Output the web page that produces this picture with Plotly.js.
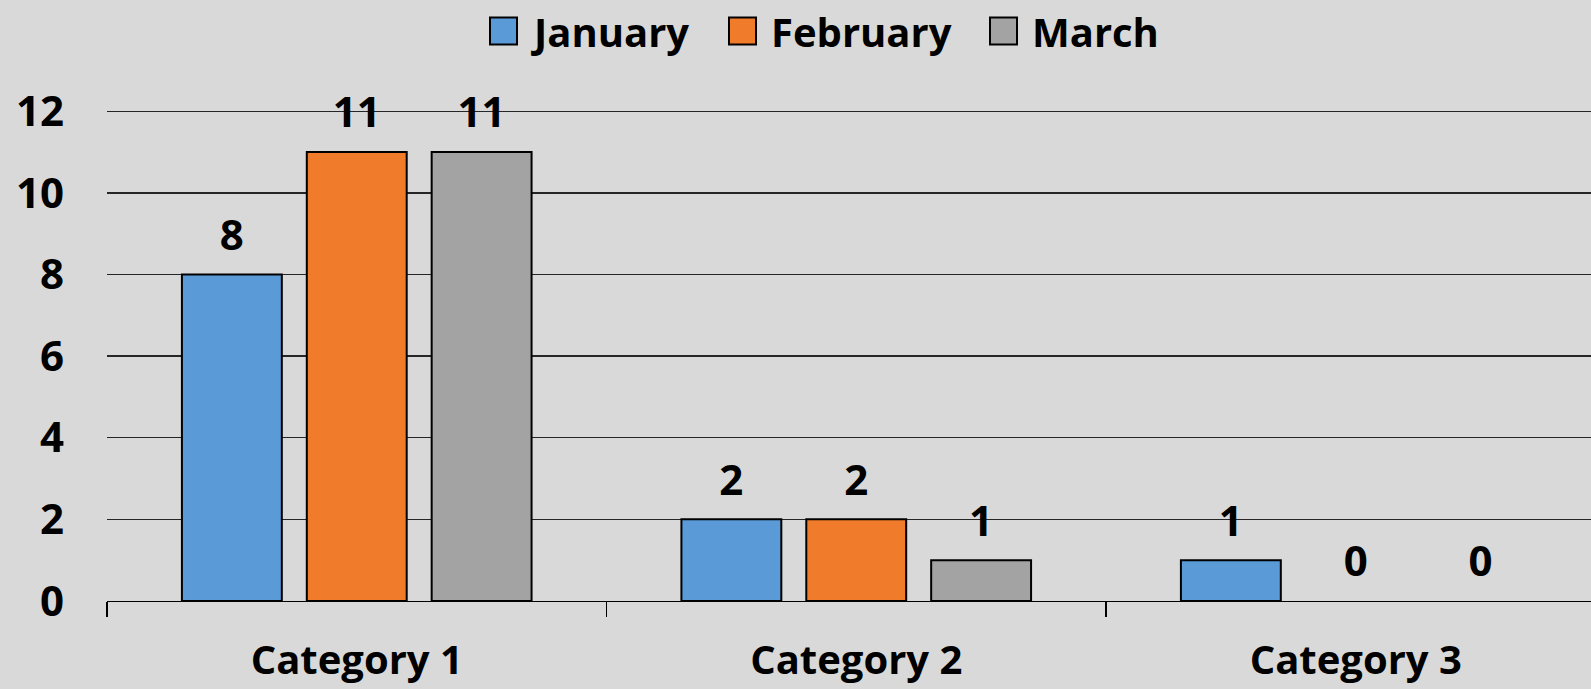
<!DOCTYPE html>
<html><head><meta charset="utf-8">
<script src="https://cdn.plot.ly/plotly-3.0.1.min.js"></script>
<style>html,body{margin:0;padding:0;background:#d9d9d9;}#chart{width:1591px;height:689px;}</style>
</head><body><div id="chart"></div>
<script>
const categories = ["Category 1", "Category 2", "Category 3"];
const january = [8, 2, 1];
const february = [11, 2, 0];
const march = [11, 1, 0];
const seriesNames = ["January", "February", "March"];
const yTicks = [0, 2, 4, 6, 8, 10, 12];

const FONT = "'Open Sans', 'Noto Sans', sans-serif";
const colors = ["#5a9ad7", "#f07b2b", "#a3a3a3"];
const vals = [january, february, march];

const W = 1591, H = 689;
const M = {l: 107, r: 0, t: 110, b: 88};
const px2x = px => (px - M.l) / (W - M.l - M.r);
const py2y = py => (H - M.b - py) / (H - M.t - M.b);

const barTraces = vals.map((v, i) => ({
  type: "bar",
  name: seriesNames[i],
  x: categories,
  y: v,
  marker: {color: colors[i], line: {color: "#000", width: v.map(y => y === 0 ? 0 : 2)}},
  hoverinfo: "x+y+name"
}));

// value labels, placed by the library at each bar's grouped position
const labelTraces = vals.map((v, i) => ({
  type: "scatter",
  mode: "markers+text",
  name: seriesNames[i] + " labels",
  x: categories,
  y: v,
  text: v.map(String),
  textposition: "top center",
  textfont: {family: FONT, size: 42, color: "#000", weight: 700},
  marker: {size: 21, color: "rgba(0,0,0,0)"},
  cliponaxis: false,
  showlegend: false,
  hoverinfo: "skip"
}));

// legend keys (large squares, as in the reference) and legend texts
const legendSwatchLeft = [490, 729, 990];
const legendTextLeft = [529, 769, 1030];
const legendShapes = seriesNames.map((n, i) => ({
  type: "rect", xref: "paper", yref: "paper",
  x0: px2x(legendSwatchLeft[i]), x1: px2x(legendSwatchLeft[i] + 27),
  y0: py2y(44.5), y1: py2y(17.5),
  fillcolor: colors[i], line: {color: "#000", width: 2}
}));
const legendAnn = seriesNames.map((n, i) => ({
  text: n, showarrow: false, xref: "paper", yref: "paper",
  x: px2x(legendTextLeft[i]), xanchor: "left",
  y: py2y(31), yanchor: "middle",
  font: {family: FONT, size: 40, color: "#000", weight: 700}
}));

const layout = {
  width: W, height: H,
  paper_bgcolor: "#d9d9d9", plot_bgcolor: "#d9d9d9",
  margin: M,
  barmode: "group", bargap: 0.25, bargroupgap: 0.2,
  scattermode: "group", scattergap: 0.25,
  font: {family: FONT, color: "#000", size: 38, weight: 700},
  showlegend: false,
  shapes: legendShapes,
  annotations: legendAnn,
  xaxis: {
    type: "category", range: [-0.5, 2.471], automargin: false,
    showgrid: false, showline: true, linecolor: "#000", linewidth: 1.3,
    ticks: "outside", tickson: "boundaries", ticklen: 15, tickcolor: "#000", tickwidth: 1.3,
    tickfont: {family: FONT, size: 40, color: "#000", weight: 700},
    ticklabelstandoff: 24
  },
  yaxis: {
    range: [0, 12.03], automargin: false,
    tickvals: yTicks, ticktext: yTicks.map(String),
    showgrid: true, gridcolor: "#262626", gridwidth: 1.3,
    showline: false, zeroline: false, ticks: "", ticklen: 0,
    tickfont: {family: FONT, size: 42, color: "#000", weight: 700},
    ticklabelstandoff: 42
  }
};

Plotly.newPlot("chart", barTraces.concat(labelTraces), layout, {displayModeBar: false, staticPlot: true});
</script></body></html>
